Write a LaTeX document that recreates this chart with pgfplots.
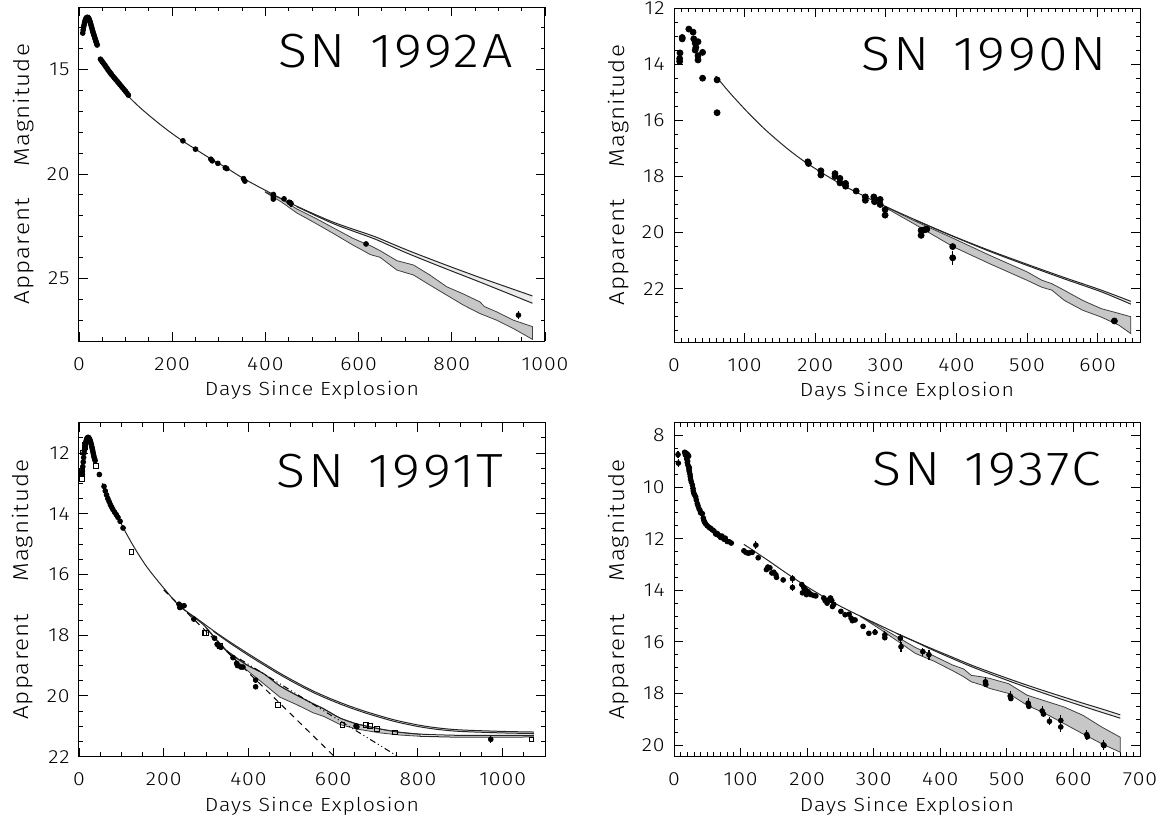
\documentclass[border=0pt]{standalone}
\usepackage{pgfplots}
\pgfplotsset{compat=1.18}
\usepackage{fontspec}
\IfFontExistsTF{Fira Sans Light}
  {\setmainfont{Fira Sans Light}[LetterSpace=5, FakeStretch=1.12]}
  {\setmainfont{Fira Sans}[LetterSpace=5, FakeStretch=1.1]}

\tikzset{snlabel/.style={anchor=north east, inner sep=0pt, font=\fontsize{24}{24}\selectfont}}
\pgfplotsset{
  snpanel/.style={
    scale only axis, width=233pt, height=167pt,
    y dir=reverse,
    axis line style={line width=0.5pt},
    tick align=inside,
    major tick length=4.5pt, minor tick length=2.2pt,
    every tick/.style={black, line width=0.45pt},
    tick label style={font=\fontsize{9.5}{11}\selectfont},
    /pgf/number format/assume math mode=true,
    /pgf/number format/1000 sep={},
    xticklabel style={anchor=north, inner sep=0pt, yshift=-8pt},
    yticklabel style={anchor=east, inner sep=0pt, xshift=-4.5pt},
    xlabel={Days Since Explosion},
    ylabel={Apparent\hspace{1.5em}Magnitude},
    xlabel style={font=\fontsize{9.5}{11}\selectfont, at={(axis description cs:0.5,0)}, anchor=north, inner sep=0pt, yshift=-20pt},
    ylabel style={font=\fontsize{10.8}{12}\selectfont, at={(axis description cs:-0.12,0.5)}, anchor=center, inner sep=0pt},
  },
  band/.style={fill=black!22, draw=black!75, line width=0.4pt},
  gap/.style={fill=black!8, draw=none},
  model/.style={black!85, line width=0.5pt, smooth},
  pts/.style={only marks, mark=*, mark size=1.2pt, mark options={fill=black, draw=black}},
  errpts/.style={only marks, mark=*, mark size=1.2pt, mark options={fill=black},
    error bars/y dir=both, error bars/y explicit, error bars/error mark=none,
    error bars/error bar style={line width=0.6pt}},
  sqpts/.style={only marks, mark=square, mark size=1.2pt, mark options={line width=0.4pt}},
}

\begin{document}
\begin{tikzpicture}
\useasboundingbox (0,0) rectangle (582pt,-408pt);

% ---------------- SN 1992A ----------------
\begin{axis}[snpanel, at={(39.5pt,-3.5pt)}, anchor=north west,
  xmin=0, xmax=1000, ymin=12, ymax=28,
  xtick={0,200,...,1000}, minor xtick={0,50,...,1000},
  ytick={15,20,25}, minor ytick={12,...,28}]
\addplot[band] coordinates {
 (400,20.85) (435,21.2) (467,21.67) (506,22.1) (546,22.58) (586,23.06) (600,23.2)
 (625,23.43) (646,23.67) (682,24.15) (718,24.36) (753,24.84) (789,25.4) (825,25.75)
 (860,26.12) (870,26.35) (896,26.6) (932,27.0) (973,27.31)
 (973,27.92) (932,27.4) (896,27.0) (860,26.68) (825,26.28) (789,25.8) (753,25.32)
 (718,24.84) (682,24.6) (646,23.99) (625,23.86) (600,23.55) (586,23.38) (546,22.85)
 (506,22.34) (467,21.86) (435,21.35) (400,20.88)} -- cycle;
\addplot[gap] coordinates {
 (467,21.54) (546,22.31) (625,22.92) (646,23.1) (705,23.65) (784,24.33) (863,24.98) (973,25.84)
 (973,26.19) (863,25.2) (784,24.51) (705,23.8) (646,23.22) (625,23.03) (546,22.38) (467,21.54)} -- cycle;
\addplot[model] coordinates {
 (60,14.9) (80,15.55) (105,16.25) (130,16.8) (160,17.37) (190,17.9) (222,18.41) (250,18.81)
 (284,19.29) (316,19.7) (355,20.24) (417,20.98) (467,21.54) (546,22.31) (625,22.92)
 (646,23.1) (705,23.65) (784,24.33) (863,24.98) (973,25.84)};
\addplot[model] coordinates {
 (467,21.56) (546,22.38) (625,23.03) (646,23.22) (705,23.8) (784,24.51) (863,25.2) (973,26.19)};
\addplot[pts] coordinates {
 (8,13.25) (9,13.1) (10,12.95) (11,12.85) (12,12.75) (13,12.67) (14,12.6) (15,12.55)
 (16,12.52) (17,12.5) (18,12.5) (19,12.5) (20,12.52) (21,12.55) (22,12.6) (23,12.66)
 (24,12.73) (25,12.8) (26,12.88) (27,12.96) (28,13.04) (29,13.12) (30,13.2) (31,13.27)
 (32,13.34) (33,13.41) (34,13.48) (35,13.55) (36,13.62) (37,13.69) (38,13.76) (39,13.82)
 (46,14.5) (48,14.56) (50,14.62) (52,14.68) (54,14.74) (56,14.8) (58,14.87) (60,14.93)
 (62,15.0) (64,15.06) (66,15.12) (68,15.18) (70,15.24) (73,15.32) (76,15.4) (79,15.48)
 (82,15.56) (85,15.64) (88,15.72) (91,15.8) (94,15.88) (97,15.96) (100,16.04) (103,16.13)
 (106,16.22) (223,18.41) (250,18.81) (283,19.29) (286,19.37) (298,19.49) (314,19.7)
 (317,19.74) (353,20.22) (356,20.34) (417,20.98) (417,21.1) (417,21.2) (440,21.19)
 (451,21.35) (616,23.35)};
\addplot[errpts] coordinates {(455,21.41) +- (0,0.15) (943,26.76) +- (0,0.2)};
\node[snlabel] at (axis description cs:0.931,0.92) {SN\hspace{0.5em}1992A};
\end{axis}

% ---------------- SN 1990N ----------------
\begin{axis}[snpanel, at={(337pt,-4pt)}, anchor=north west,
  xmin=0, xmax=660, ymin=12, ymax=23.9,
  xtick={0,100,...,600}, minor xtick={0,10,...,660},
  ytick={12,14,...,22}, minor ytick={12,12.5,...,23.5}]
\addplot[band] coordinates {
 (300,19.08) (342,19.6) (395,20.2) (447,20.81) (500,21.4) (521,21.7) (535,21.82)
 (553,22.06) (579,22.42) (605,22.71) (630,22.88) (647,23.0)
 (647,23.6) (630,23.3) (605,23.01) (579,22.77) (553,22.42) (535,22.05) (521,21.95)
 (500,21.7) (447,21.11) (395,20.5) (342,19.72) (300,19.12)} -- cycle;
\addplot[gap] coordinates {
 (394.7,20.12) (447,20.64) (500,21.13) (552.6,21.6) (605,22.05) (647,22.45)
 (647,22.55) (605,22.11) (552.6,21.65) (500,21.17) (447,20.67) (394.7,20.13)} -- cycle;
\addplot[model] coordinates {
 (59,14.42) (79,15.02) (105,15.73) (130,16.35) (160,17.0) (189.5,17.55) (236.8,18.28)
 (289.5,18.95) (342,19.55) (394.7,20.12) (447,20.64) (500,21.13) (552.6,21.6) (605,22.05) (647,22.45)};
\addplot[model] coordinates {
 (342,19.56) (394.7,20.13) (447,20.67) (500,21.17) (552.6,21.65) (605,22.11) (647,22.55)};
\addplot[pts, mark size=1.5pt] coordinates {
 (8,13.9) (8,13.8) (8.5,13.6) (11.6,13.1) (11.6,13.05) (21,12.75) (27,12.86) (28,13.1)
 (30,13.25) (31,13.4) (30,13.5) (34,13.2) (34,13.7) (34,13.85) (40.5,13.58) (40.5,14.5)
 (61,14.56) (61,15.73) (189.5,17.48) (190.5,17.54) (208,17.8) (208,17.95) (228,17.9)
 (228,18.0) (235,18.07) (235,18.23) (243,18.25) (243,18.35) (258,18.52) (271,18.73)
 (271,18.85) (283,18.73) (284,18.9) (290,18.85) (292,18.82) (292,19.0) (299,19.18)
 (299,19.38) (350,19.92) (350,20.1) (355,19.9) (358,19.88) (394.7,20.5) (623.7,23.15)};
\addplot[errpts, mark size=1.5pt] coordinates {(394.7,20.9) +- (0,0.25)};
\node[snlabel] at (axis description cs:0.929,0.915) {SN\hspace{0.5em}1990N};
\end{axis}

% ---------------- SN 1991T ----------------
\begin{axis}[snpanel, at={(39.5pt,-211.3pt)}, anchor=north west,
  xmin=0, xmax=1100, ymin=11, ymax=22,
  xtick={0,200,...,1000}, minor xtick={0,50,...,1100},
  ytick={12,14,...,22}, minor ytick={11,11.5,...,22}]
\addplot[band] coordinates {
 (300,17.75) (347,18.49) (396,18.98) (435,19.26) (474,19.67) (514,19.98) (553,20.26)
 (577,20.42) (616,20.73) (655,20.92) (711,21.09) (758,21.2) (805,21.26)
 (805,21.33) (758,21.29) (711,21.22) (655,21.09) (616,20.94) (577,20.67) (553,20.56)
 (514,20.29) (474,20.04) (435,19.59) (396,19.15) (347,18.52) (300,17.77)} -- cycle;
\addplot[gap] coordinates {
 (805,20.97) (850,21.06) (900,21.12) (1000,21.17) (1074,21.19)
 (1074,21.24) (1000,21.22) (900,21.17) (850,21.11) (805,21.02)} -- cycle;
\addplot[model] coordinates {
 (55,13.0) (80,13.75) (104,14.45) (130,15.1) (160,15.75) (200,16.45) (238,17.05) (278,17.45)
 (317,17.85) (356,18.22) (396,18.58) (435,18.92) (474,19.25) (514,19.56) (553,19.84)
 (592,20.08) (632,20.3) (671,20.49) (711,20.66) (750,20.81) (805,20.97) (850,21.06)
 (900,21.12) (1000,21.17) (1074,21.19)};
\addplot[model] coordinates {
 (317,17.87) (356,18.26) (396,18.63) (435,18.97) (474,19.3) (514,19.61) (553,19.89)
 (592,20.13) (632,20.35) (671,20.54) (711,20.71) (750,20.86) (805,21.02) (850,21.11)
 (900,21.17) (1000,21.22) (1074,21.24)};
\addplot[model] coordinates {
 (238,17.05) (280,17.5) (300,17.75) (347,18.49) (396,18.98) (435,19.26) (474,19.67) (514,19.98)
 (553,20.26) (577,20.42) (616,20.73) (655,20.92) (711,21.09) (758,21.2) (805,21.26)
 (900,21.3) (1000,21.3) (1074,21.3)};
\addplot[model] coordinates {
 (805,21.33) (900,21.36) (1000,21.36) (1074,21.35)};
\addplot[black, line width=0.5pt, dash pattern=on 3pt off 2.5pt] coordinates {(200,16.51) (603,22.0)};
\addplot[black, line width=0.5pt, dash pattern=on 3pt off 1.5pt on 0.5pt off 1.5pt on 0.5pt off 1.5pt]
 coordinates {(380,18.79) (752,21.99)};
\addplot[pts] coordinates {
 (8,12.7) (8,12.6) (9,12.45) (10,12.3) (11,12.15) (12,12.0) (13,11.9) (14,11.8) (15,11.72)
 (16,11.65) (17,11.6) (18,11.55) (19,11.52) (20,11.5) (21,11.49) (22,11.49) (23,11.5)
 (24,11.52) (25,11.55) (26,11.58) (27,11.62) (28,11.67) (29,11.72) (30,11.78) (31,11.84)
 (32,11.9) (33,11.97) (34,12.04) (35,12.1) (36,12.16) (37,12.2) (38,12.25) (48,12.71)
 (59,13.1) (62,13.25) (65,13.38) (68,13.5) (71,13.6) (74,13.7) (77,13.78) (80,13.86)
 (84,13.95) (88,14.03) (92,14.12) (97,14.25) (104,14.47)
 (236,16.98) (238,17.09) (241,17.04) (248,17.03) (271,17.47) (320,18.1) (326,18.3)
 (330,18.35) (335,18.4) (363.5,18.74) (372,18.93) (374,19.0) (382,19.05) (387,19.05)
 (417,19.48) (417,19.7) (654,20.99) (656,21.02)};
\addplot[errpts] coordinates {(972,21.43) +- (0,0.12)};
\addplot[sqpts] coordinates {
 (7,12.58) (7,12.86) (7,12.7) (10,11.98) (13,11.8) (13,11.72) (39,12.42) (123.5,15.27)
 (296,17.93) (300,17.93) (333,18.35) (470,20.29) (621.7,20.96) (678,20.96) (687,21.0)
 (703,21.1) (746,21.2) (1068,21.43)};
\node[snlabel] at (axis description cs:0.912,0.908) {SN\hspace{0.5em}1991T};
\end{axis}

% ---------------- SN 1937C ----------------
\begin{axis}[snpanel, at={(337pt,-211.3pt)}, anchor=north west,
  xmin=0, xmax=700, ymin=7.5, ymax=20.45,
  xtick={0,100,...,700}, minor xtick={0,10,...,700},
  ytick={8,10,...,20}, minor ytick={7.5,8,...,20.5}]
\addplot[band] coordinates {
 (280,15.0) (306.7,15.38) (334.6,15.8) (362.6,16.22) (390.6,16.55) (418.6,16.9) (435,17.05)
 (446.6,17.3) (463,17.36) (474.5,17.42) (502.5,17.62) (530.5,18.07) (558.5,18.3)
 (586.5,18.53) (614.4,18.85) (642.4,19.3) (670.4,19.7)
 (670.4,20.28) (642.4,19.95) (614.4,19.57) (586.5,19.18) (558.5,18.79) (530.5,18.46)
 (502.5,18.0) (474.5,17.81) (463,17.68) (446.6,17.55) (435,17.35) (418.6,17.12)
 (390.6,16.75) (362.6,16.45) (334.6,15.95) (306.7,15.46) (280,15.02)} -- cycle;
\addplot[gap] coordinates {
 (362.6,15.99) (390.6,16.3) (446.6,16.9) (502.5,17.43) (558.5,17.92) (614.4,18.38) (670.4,18.83)
 (670.4,18.96) (614.4,18.5) (558.5,18.02) (502.5,17.51) (446.6,16.96) (390.6,16.34) (362.6,16.0)} -- cycle;
\addplot[model] coordinates {
 (105,12.22) (138.8,12.8) (166.8,13.3) (194.7,13.78) (222.7,14.22) (250.7,14.63) (278.7,14.99)
 (306.7,15.33) (334.6,15.67) (362.6,15.99) (390.6,16.3) (418.6,16.6) (446.6,16.9) (474.5,17.17)
 (502.5,17.43) (530.5,17.68) (558.5,17.92) (586.5,18.15) (614.4,18.38) (642.4,18.6) (670.4,18.83)};
\addplot[model] coordinates {
 (334.6,15.68) (362.6,16.0) (390.6,16.34) (446.6,16.96) (502.5,17.51) (558.5,18.02) (614.4,18.5) (670.4,18.96)};
\addplot[pts] coordinates {
 (16,8.65) (17,8.75) (18,8.68) (19,8.9) (20,8.72) (20,9.05) (21,8.76) (22,8.8) (20.5,9.0)
 (21,9.15) (22,9.22) (22.6,9.33) (23,9.25) (23,9.4) (24,9.5) (24.5,9.6) (25,9.7) (26,9.8)
 (27.6,9.92) (28.5,10.05) (29,10.15) (30,10.25) (31,10.3) (32.6,10.38) (33.5,10.5)
 (35,10.64) (36,10.72) (37.6,10.84) (39,10.9) (40,11.0) (42.6,11.03) (44,11.2) (45,11.3)
 (46,11.36) (47.7,11.43) (50,11.5) (52.7,11.56) (55,11.6) (57.7,11.66) (60,11.7)
 (62.7,11.82) (65,11.8) (67,11.87) (70,11.95) (72,11.9) (75,12.02) (77,11.98) (80,12.11)
 (83,12.12) (86,12.17)
 (105,12.47) (108,12.53) (111,12.56) (113.6,12.55) (117.5,12.53) (126.5,12.74) (138.8,13.2)
 (141,13.1) (144,13.13) (147,13.33) (150,13.3) (153,13.4) (154,13.5) (164,13.6) (192,13.78)
 (193,14.1) (195,13.9) (197.5,13.98) (199,14.17) (201,14.05) (203,14.1) (206,14.17)
 (210,14.2) (213,14.22) (225,14.3) (227,14.4) (230,14.5) (232,14.38) (235,14.3) (237,14.4)
 (238,14.63) (240,14.55) (250.7,14.82) (257,14.95) (263,14.93) (266,15.08) (268,15.18)
 (272,15.15) (284,15.4) (292.7,15.67) (316.7,15.84) (468.5,17.65) (506,18.2) (533,18.5)
 (555,18.8) (621,19.68) (646,20.02)};
\addplot[errpts] coordinates {
 (6,8.74) +- (0,0.15) (6.5,9.07) +- (0,0.15) (123,12.25) +- (0,0.15) (178,13.55) +- (0,0.15)
 (178,13.89) +- (0,0.12) (302,15.63) +- (0,0.12) (316.7,15.73) +- (0,0.15)
 (340,15.86) +- (0,0.15) (341,16.19) +- (0,0.2) (373.8,16.38) +- (0,0.15)
 (383,16.5) +- (0,0.2) (467.8,17.55) +- (0,0.2) (505,18.1) +- (0,0.2) (532,18.38) +- (0,0.2)
 (553,18.68) +- (0,0.2) (564,19.08) +- (0,0.15) (581,19.05) +- (0,0.2) (581,19.3) +- (0,0.2)
 (620,19.6) +- (0,0.2) (645,19.99) +- (0,0.2)};
\node[snlabel] at (axis description cs:0.918,0.914) {SN\hspace{0.5em}1937C};
\end{axis}
\end{tikzpicture}
\end{document}
